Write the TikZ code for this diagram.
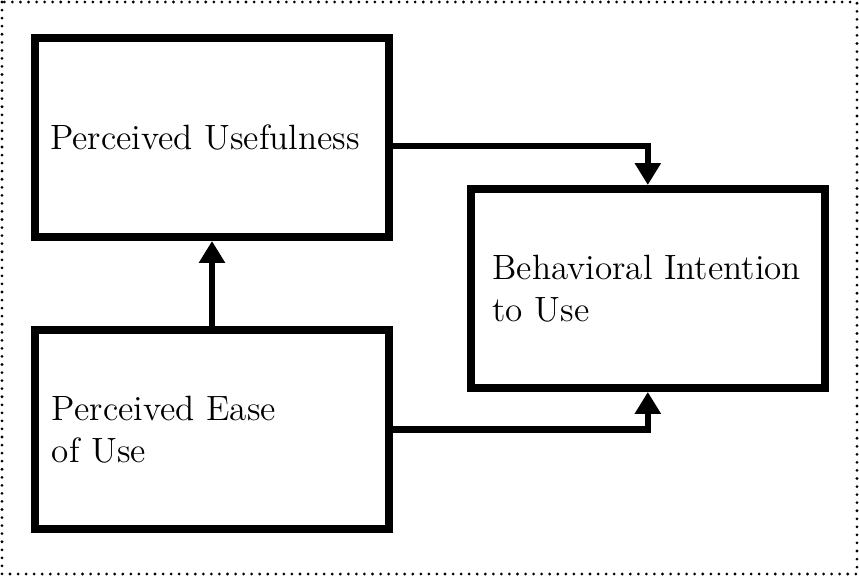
\documentclass[tikz,border=0pt]{standalone}
\usepackage{tikz}
\usetikzlibrary{arrows.meta, positioning, calc}
\tikzset{
	construct/.style={rectangle, draw=black, line width=2.9pt, minimum width=127.4pt, minimum height=71.6pt, align=left, font=\fontsize{12.65}{15.1}\selectfont},
	arrow/.style={line width=2.3pt, -{Triangle[length=7.9pt, width=9pt]}},
	frame/.style={line width=1.1pt, line cap=round, dash pattern=on 0pt off 2.9pt}
}
\begin{document}
\begin{tikzpicture}[x=0.36pt, y=-0.36pt]
		\useasboundingbox (0,0) rectangle (859,576);
		\draw [frame] (2,2) rectangle (857,574);
		
		% Constructos de la izquierda
		\node (useful) [construct, text width=116.6pt, inner xsep=5.4pt] at (212,137.5) {Perceived Usefulness};
		\node (ease) [construct, below=30.6pt of useful, text width=115.2pt, inner xsep=6.1pt] {Perceived Ease\\of Use};
		
		% Constructo de la derecha
		\coordinate (mid) at ($(useful.east)!0.5!(ease.east)$);
		\node (intent) [construct, right=26.6pt of mid, yshift=-1.8pt, text width=111.8pt, inner xsep=7.6pt] {Behavioral Intention\\to Use};
		
		% Conexiones
		\draw [arrow] ([yshift=-3pt]useful.east) -| (intent.north);
		\draw [arrow] (ease.east) -| (intent.south);
		\draw [arrow] (ease.north) -- (useful.south);
	\end{tikzpicture}
\end{document}
